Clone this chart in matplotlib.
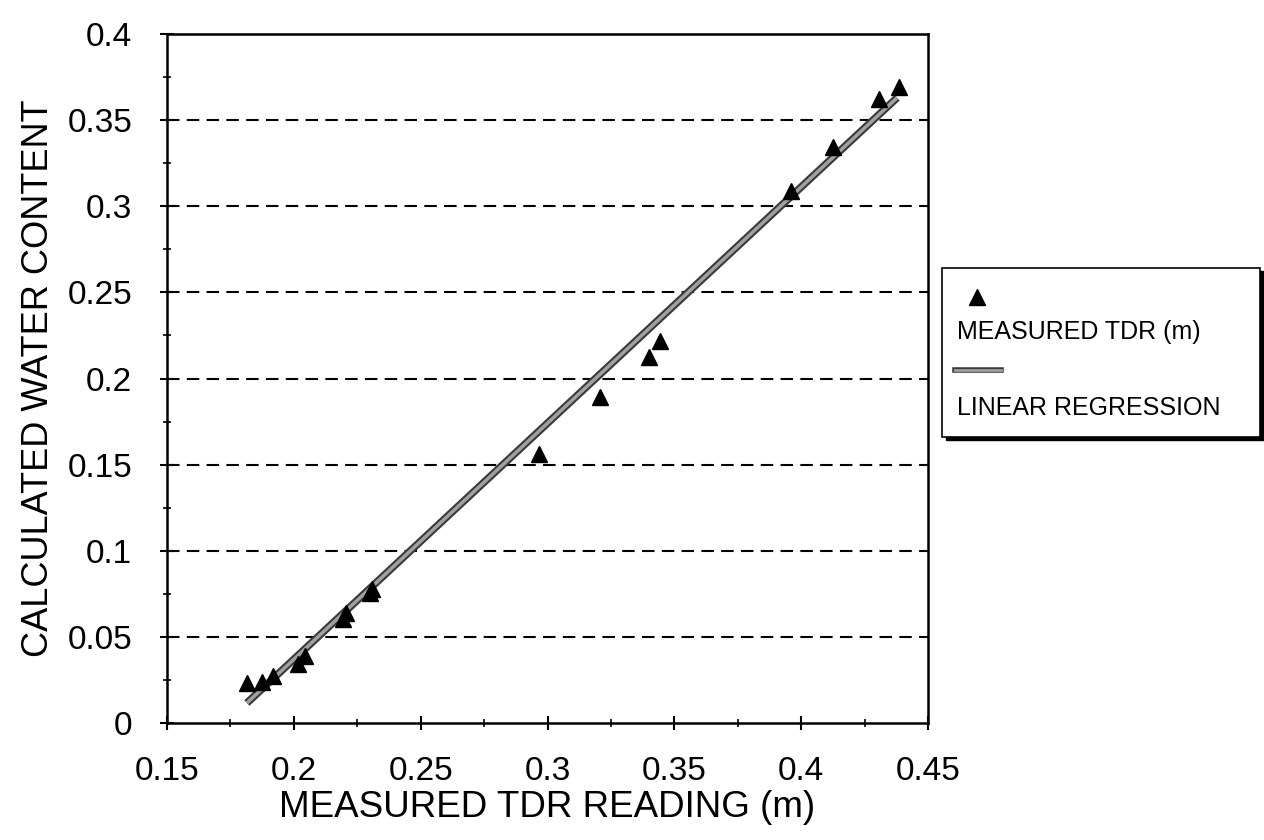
import numpy as np
import matplotlib
matplotlib.use('Agg')
from matplotlib import pyplot as plt
from matplotlib import patheffects
from matplotlib.patches import Rectangle
from matplotlib.lines import Line2D
from matplotlib.ticker import MultipleLocator, FuncFormatter

# data
tdr_reading = [0.1815, 0.1874, 0.1917, 0.2016, 0.2043, 0.2195, 0.2205, 0.2300, 0.2307,
               0.2966, 0.3205, 0.3400, 0.3445, 0.3960, 0.4126, 0.4307, 0.4386]
water_content = [0.023, 0.024, 0.027, 0.034, 0.039, 0.0605, 0.064, 0.0755, 0.078,
                 0.1560, 0.189, 0.2125, 0.222, 0.309, 0.3345, 0.3624, 0.3693]

# end points of the fitted line
regression_x = [0.1815, 0.4378]
regression_y = [0.0116, 0.3630]

x_ticks = [0.15, 0.2, 0.25, 0.3, 0.35, 0.4, 0.45]
y_ticks = [0, 0.05, 0.1, 0.15, 0.2, 0.25, 0.3, 0.35, 0.4]

plt.rcParams['font.family'] = ['Liberation Sans', 'DejaVu Sans']

fig = plt.figure(figsize=(12.64, 8.4), dpi=100)
fig.set_facecolor('white')
ax = fig.add_axes([0.1321, 0.1393, 0.6021, 0.8202])

# dashed horizontal grid
for yv in y_ticks[1:-1]:
	ax.axhline(yv, color='black', linewidth=1.5, linestyle=(0, (6, 3.5)), zorder=1)

# regression line: gray with a dark rim
reg_style = [patheffects.Stroke(linewidth=5.5, foreground='#3a3a3a'), patheffects.Normal()]
ax.plot(regression_x, regression_y, color='#a0a0a0', linewidth=2.5,
	path_effects=reg_style, solid_capstyle='butt', zorder=3)

ax.plot(tdr_reading, water_content, linestyle='none', marker='^', markersize=11,
	color='black', zorder=4)

ax.set_xlim(x_ticks[0], x_ticks[-1])
ax.set_ylim(y_ticks[0], y_ticks[-1])
ax.set_xticks(x_ticks)
ax.set_yticks(y_ticks)
ax.xaxis.set_minor_locator(MultipleLocator(0.025))
ax.yaxis.set_minor_locator(MultipleLocator(0.025))
fmt = FuncFormatter(lambda v, p: '%g' % round(v, 3))
ax.xaxis.set_major_formatter(fmt)
ax.yaxis.set_major_formatter(fmt)

ax.tick_params(which='major', direction='inout', length=10, width=1.5, labelsize=24, pad=19)
ax.tick_params(which='minor', direction='inout', length=6, width=1.2)
ax.tick_params(axis='y', which='major', pad=20)
for sp in ax.spines.values():
	sp.set_linewidth(1.8)

ax.set_xlabel('MEASURED TDR READING (m)', fontsize=26.5, labelpad=2)
ax.set_ylabel('CALCULATED WATER CONTENT', fontsize=26, labelpad=8)

# legend box drawn by hand (marker and label on separate rows, with shadow)
lx, ly, lw, lh = 0.7453, 0.4798, 0.2516, 0.2012
fig.patches.append(Rectangle((lx + 0.003, ly - 0.004), lw, lh, transform=fig.transFigure,
	facecolor='black', edgecolor='black', zorder=5))
fig.patches.append(Rectangle((lx, ly), lw, lh, transform=fig.transFigure,
	facecolor='white', edgecolor='black', linewidth=1.2, zorder=6))
fig.lines.append(Line2D([0.7730], [1 - 297 / 840.], transform=fig.transFigure, marker='^',
	markersize=11, color='black', linestyle='none', zorder=7))
fig.text(0.7575, 1 - 332 / 840., 'MEASURED TDR (m)', fontsize=18, va='center', ha='left', zorder=7)
fig.lines.append(Line2D([0.7555, 0.7920], [1 - 370 / 840.] * 2, transform=fig.transFigure,
	color='#a0a0a0', linewidth=2, path_effects=[patheffects.Stroke(linewidth=4, foreground='#3a3a3a'),
	patheffects.Normal()], zorder=7))
fig.text(0.7575, 1 - 408 / 840., 'LINEAR REGRESSION', fontsize=18, va='center', ha='left', zorder=7)

fig.savefig('out.png', dpi=100)
